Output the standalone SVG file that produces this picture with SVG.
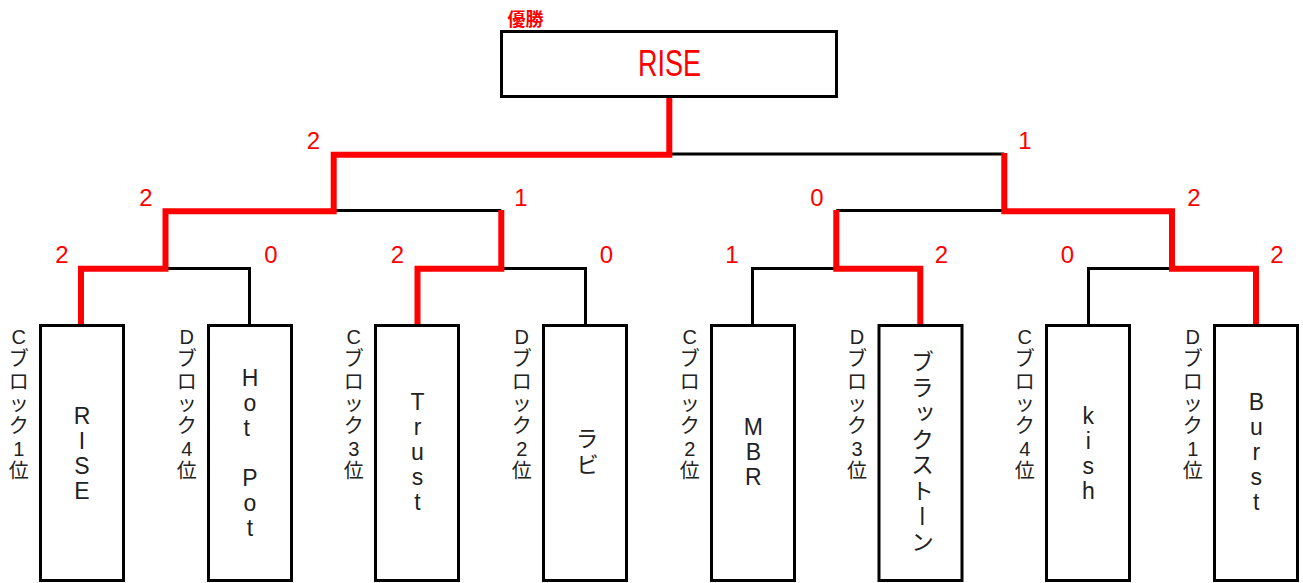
<svg xmlns="http://www.w3.org/2000/svg" width="1303" height="583" viewBox="0 0 1303 583">
<style>
.blk{fill:none;stroke:#000;stroke-width:3;stroke-linejoin:miter}
.red{fill:none;stroke:#f00;stroke-width:6;stroke-linejoin:miter}
.box{fill:#fff;stroke:#000;stroke-width:3}
.score{font-family:"Liberation Sans","Noto Sans CJK JP",sans-serif;font-size:24px;fill:#f00;text-anchor:middle}
.lbl{font-family:"Liberation Sans","Noto Sans CJK JP",sans-serif;font-size:20px;fill:#222;text-anchor:middle;dominant-baseline:central}
.team{font-family:"Liberation Sans","Noto Sans CJK JP",sans-serif;font-size:23px;fill:#222;text-anchor:middle}
.vert{writing-mode:vertical-rl;text-orientation:upright}
</style>
<rect width="1303" height="583" fill="#fff"/>
<g id="connectors">
<path class="blk" d="M249.5 326 V268.5 H165.5"/>
<path class="blk" d="M585.5 326 V268.5 H501.3"/>
<path class="blk" d="M752.5 326 V268.5 H836.3"/>
<path class="blk" d="M1088.5 326 V268.5 H1172"/>
<path class="blk" d="M333.7 210.5 H501.3"/>
<path class="blk" d="M836.3 210.5 H1004.3"/>
<path class="blk" d="M669.3 154 H1004.3"/>
<path class="red" d="M81 326 V268.7 H165.5 V211.3 H333.7 V154.7 H669.3 V96"/>
<path class="red" d="M417.5 326 V268.7 H501.3 V210"/>
<path class="red" d="M920.3 326 V268.7 H836.3 V210"/>
<path class="red" d="M1256 326 V268.7 H1172 V211.3 H1004.3 V153"/>
</g>
<g id="scores">
<text class="score" x="313.5" y="149">2</text>
<text class="score" x="1025" y="149">1</text>
<text class="score" x="146" y="206">2</text>
<text class="score" x="521" y="206">1</text>
<text class="score" x="817" y="206">0</text>
<text class="score" x="1194" y="206">2</text>
<text class="score" x="62" y="263">2</text>
<text class="score" x="271" y="263">0</text>
<text class="score" x="397.5" y="263">2</text>
<text class="score" x="606.5" y="263">0</text>
<text class="score" x="732" y="263">1</text>
<text class="score" x="941.5" y="263">2</text>
<text class="score" x="1067.5" y="263">0</text>
<text class="score" x="1277" y="263">2</text>
</g>
<g id="champion">
<text x="525.5" y="18" font-family="'Noto Sans CJK JP',sans-serif" font-size="18" font-weight="bold" fill="#f00" text-anchor="middle" dominant-baseline="central">優勝</text>
<rect class="box" x="501.5" y="31.5" width="335" height="65"/>
<text x="669.5" y="76" font-family="'Liberation Sans',sans-serif" font-size="36" fill="#f00" text-anchor="middle" textLength="63" lengthAdjust="spacingAndGlyphs">RISE</text>
</g>
<g id="team-rise">
<text class="lbl"><tspan x="18.7" y="337">C</tspan><tspan x="18.7" y="359.3">ブ</tspan><tspan x="18.7" y="381.6">ロ</tspan><tspan x="18.7" y="403.9">ッ</tspan><tspan x="18.7" y="426.2">ク</tspan><tspan x="18.7" y="448.5">1</tspan><tspan x="18.7" y="470.8">位</tspan></text>
<rect class="box" x="40.5" y="325.5" width="83" height="255"/>
<text class="team"><tspan x="82" y="424">R</tspan><tspan x="82" y="449">I</tspan><tspan x="82" y="474">S</tspan><tspan x="82" y="499">E</tspan></text>
</g>
<g id="team-hotpot">
<text class="lbl"><tspan x="186.7" y="337">D</tspan><tspan x="186.7" y="359.3">ブ</tspan><tspan x="186.7" y="381.6">ロ</tspan><tspan x="186.7" y="403.9">ッ</tspan><tspan x="186.7" y="426.2">ク</tspan><tspan x="186.7" y="448.5">4</tspan><tspan x="186.7" y="470.8">位</tspan></text>
<rect class="box" x="208.5" y="325.5" width="83" height="255"/>
<text class="team"><tspan x="250" y="385.5">H</tspan><tspan x="250" y="410.5">o</tspan><tspan x="250" y="435.5">t </tspan><tspan x="250" y="485.5">P</tspan><tspan x="250" y="510.5">o</tspan><tspan x="250" y="535.5">t</tspan></text>
</g>
<g id="team-trust">
<text class="lbl"><tspan x="353.7" y="337">C</tspan><tspan x="353.7" y="359.3">ブ</tspan><tspan x="353.7" y="381.6">ロ</tspan><tspan x="353.7" y="403.9">ッ</tspan><tspan x="353.7" y="426.2">ク</tspan><tspan x="353.7" y="448.5">3</tspan><tspan x="353.7" y="470.8">位</tspan></text>
<rect class="box" x="375.5" y="325.5" width="83" height="255"/>
<text class="team"><tspan x="417.5" y="409.5">T</tspan><tspan x="417.5" y="434.5">r</tspan><tspan x="417.5" y="459.5">u</tspan><tspan x="417.5" y="484.5">s</tspan><tspan x="417.5" y="510">t</tspan></text>
</g>
<g id="team-rabi">
<text class="lbl"><tspan x="521.7" y="337">D</tspan><tspan x="521.7" y="359.3">ブ</tspan><tspan x="521.7" y="381.6">ロ</tspan><tspan x="521.7" y="403.9">ッ</tspan><tspan x="521.7" y="426.2">ク</tspan><tspan x="521.7" y="448.5">2</tspan><tspan x="521.7" y="470.8">位</tspan></text>
<rect class="box" x="543.5" y="325.5" width="83" height="255"/>
<text class="team vert" x="585.3" y="453" font-size="20" style="letter-spacing:3px">ラビ</text>
</g>
<g id="team-mbr">
<text class="lbl"><tspan x="689.7" y="337">C</tspan><tspan x="689.7" y="359.3">ブ</tspan><tspan x="689.7" y="381.6">ロ</tspan><tspan x="689.7" y="403.9">ッ</tspan><tspan x="689.7" y="426.2">ク</tspan><tspan x="689.7" y="448.5">2</tspan><tspan x="689.7" y="470.8">位</tspan></text>
<rect class="box" x="711.5" y="325.5" width="83" height="255"/>
<text class="team"><tspan x="753.3" y="434.5">M</tspan><tspan x="753.3" y="459.5">B</tspan><tspan x="753.3" y="484.5">R</tspan></text>
</g>
<g id="team-blackstone">
<text class="lbl"><tspan x="857" y="337">D</tspan><tspan x="857" y="359.3">ブ</tspan><tspan x="857" y="381.6">ロ</tspan><tspan x="857" y="403.9">ッ</tspan><tspan x="857" y="426.2">ク</tspan><tspan x="857" y="448.5">3</tspan><tspan x="857" y="470.8">位</tspan></text>
<rect class="box" x="879" y="325.5" width="83" height="255"/>
<text class="team vert" x="920.5" y="453" font-size="22" style="letter-spacing:2.7px">ブラックストーン</text>
</g>
<g id="team-kish">
<text class="lbl"><tspan x="1024.7" y="337">C</tspan><tspan x="1024.7" y="359.3">ブ</tspan><tspan x="1024.7" y="381.6">ロ</tspan><tspan x="1024.7" y="403.9">ッ</tspan><tspan x="1024.7" y="426.2">ク</tspan><tspan x="1024.7" y="448.5">4</tspan><tspan x="1024.7" y="470.8">位</tspan></text>
<rect class="box" x="1046.5" y="325.5" width="83" height="255"/>
<text class="team"><tspan x="1088.3" y="423.5">k</tspan><tspan x="1088.3" y="448.5">i</tspan><tspan x="1088.3" y="473.5">s</tspan><tspan x="1088.3" y="498.5">h</tspan></text>
</g>
<g id="team-burst">
<text class="lbl"><tspan x="1192.7" y="337">D</tspan><tspan x="1192.7" y="359.3">ブ</tspan><tspan x="1192.7" y="381.6">ロ</tspan><tspan x="1192.7" y="403.9">ッ</tspan><tspan x="1192.7" y="426.2">ク</tspan><tspan x="1192.7" y="448.5">1</tspan><tspan x="1192.7" y="470.8">位</tspan></text>
<rect class="box" x="1214.5" y="325.5" width="83" height="255"/>
<text class="team"><tspan x="1256.3" y="410">B</tspan><tspan x="1256.3" y="435">u</tspan><tspan x="1256.3" y="460">r</tspan><tspan x="1256.3" y="485">s</tspan><tspan x="1256.3" y="510">t</tspan></text>
</g>
</svg>
